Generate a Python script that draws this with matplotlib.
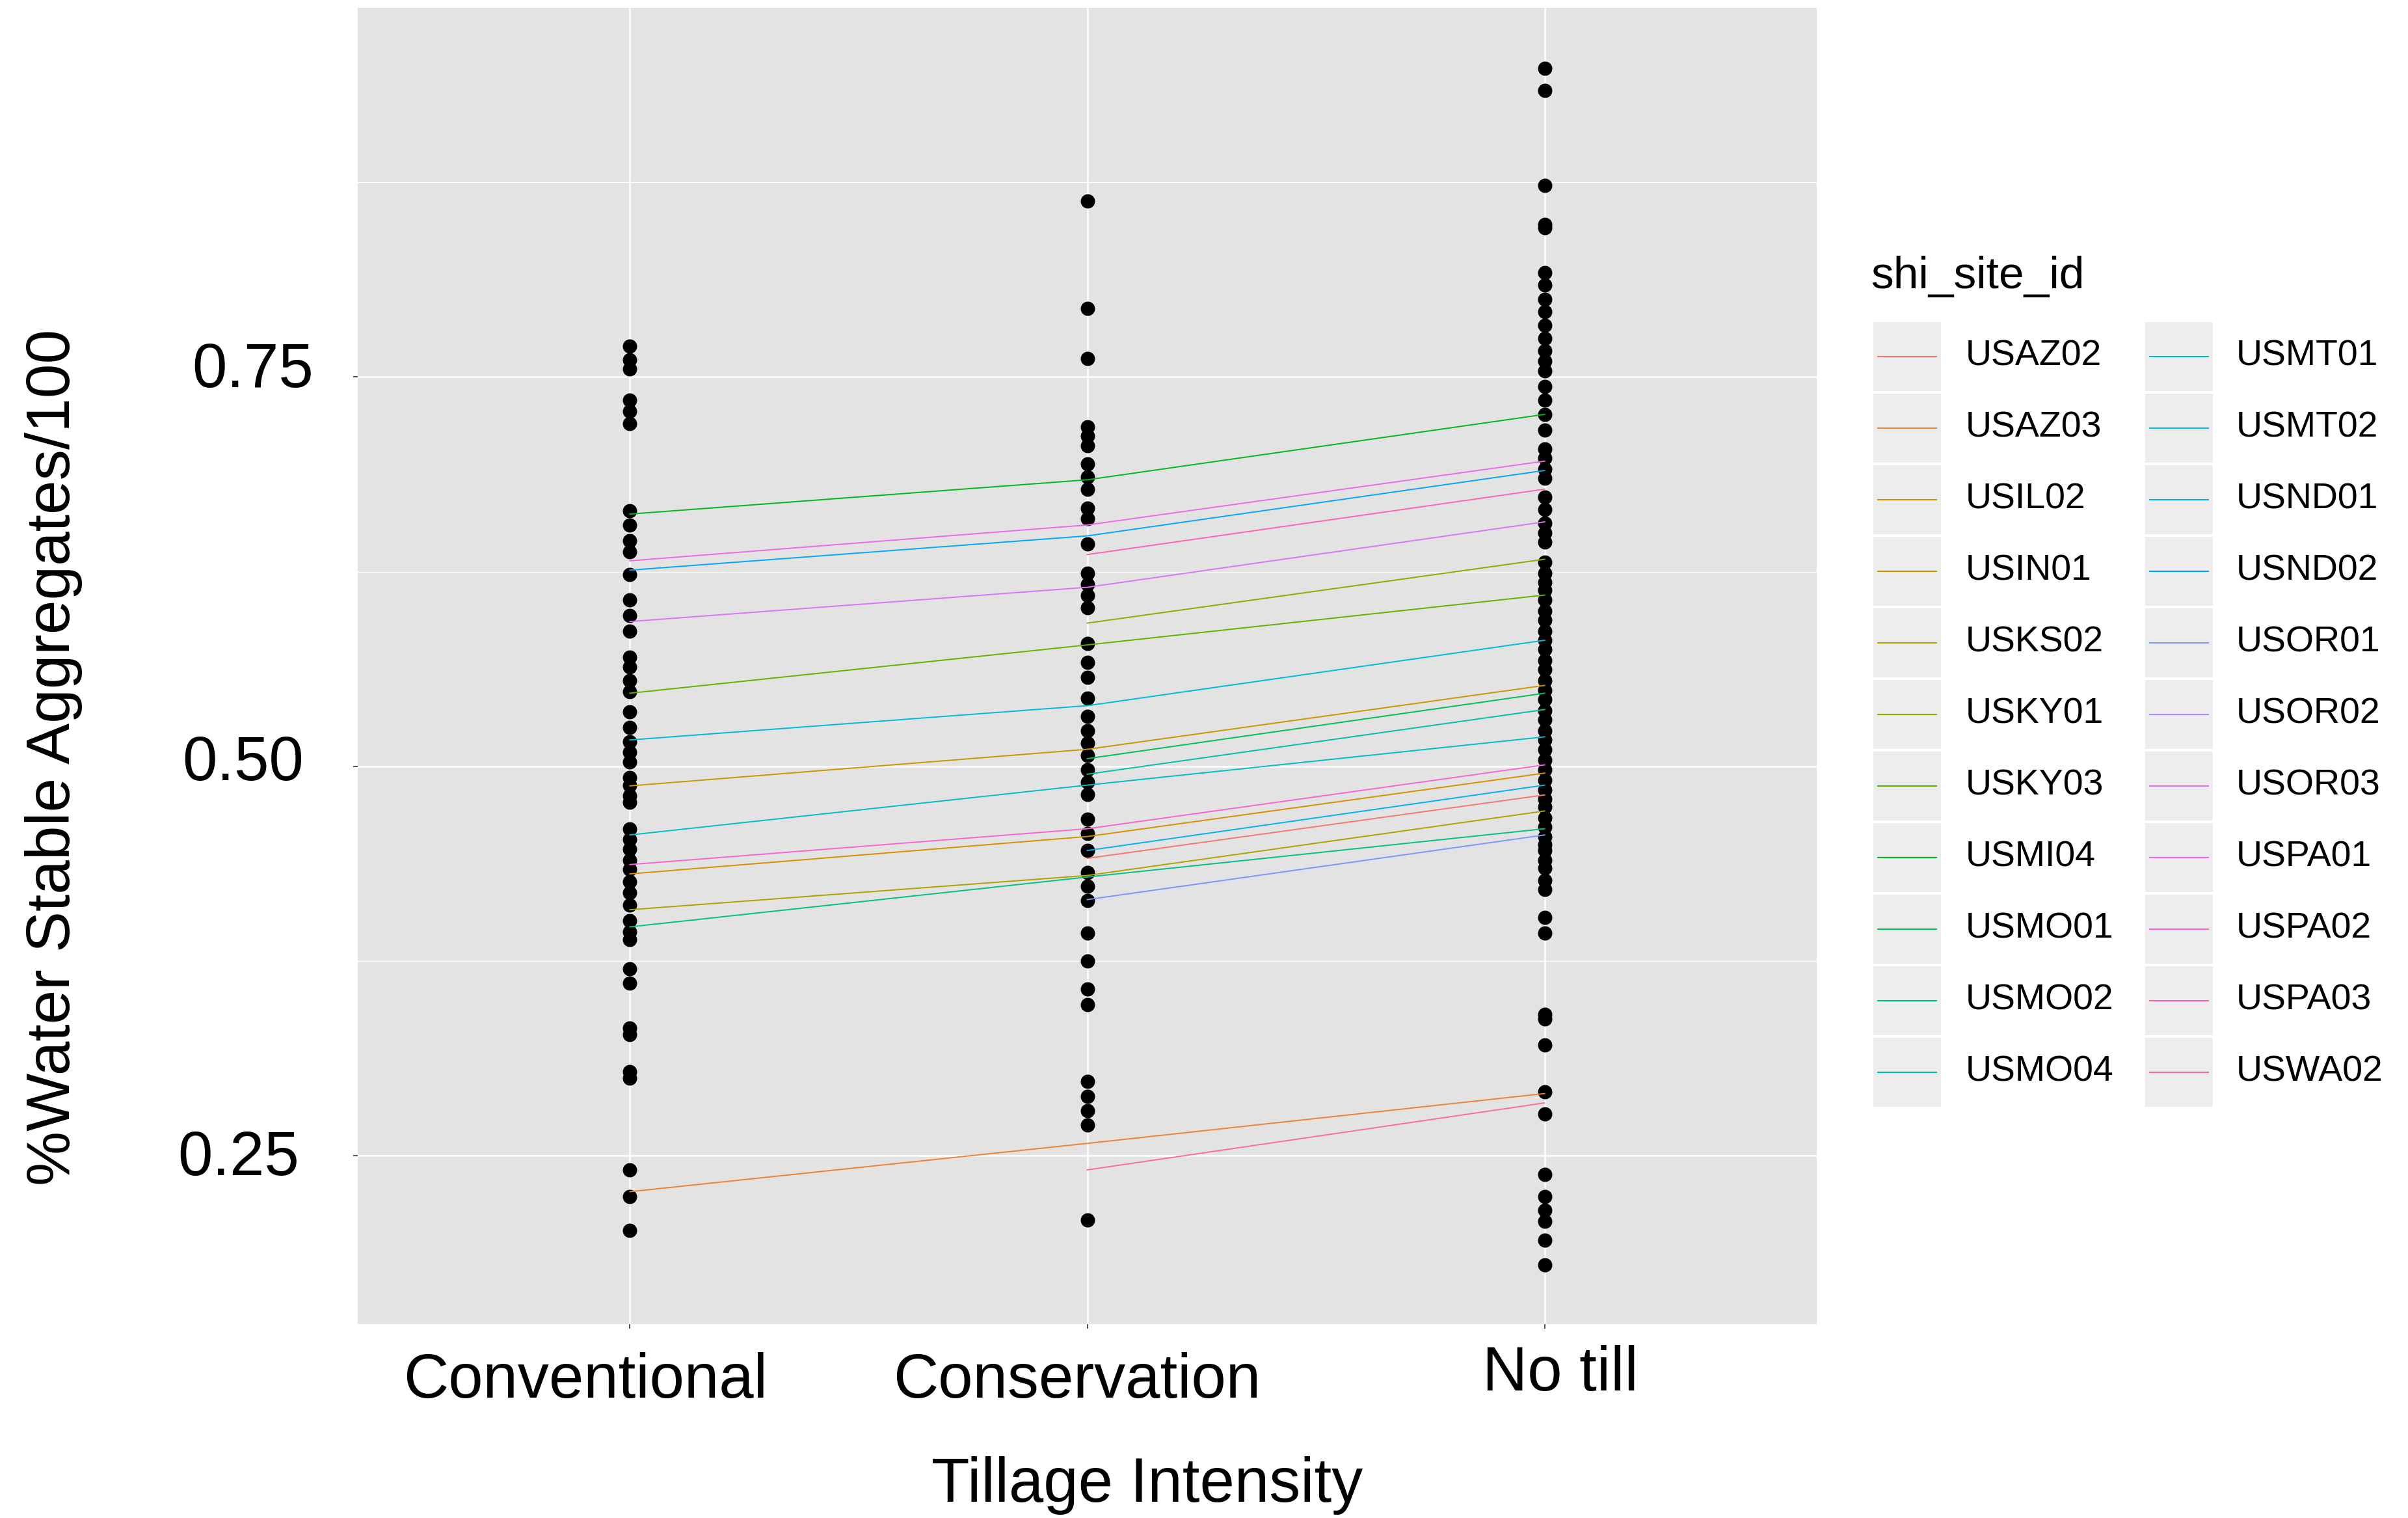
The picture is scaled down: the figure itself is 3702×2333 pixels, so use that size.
import numpy as np
import matplotlib
matplotlib.use("Agg")
import matplotlib.pyplot as plt
from matplotlib.transforms import ScaledTranslation
from matplotlib.patches import Rectangle

plt.rcParams['font.family'] = ['Liberation Sans', 'DejaVu Sans']

# tillage levels
tillage = ["Conventional", "Conservation", "No till"]

# raw observations (water stable aggregates / 100) per tillage level
conv_pts = [0.770, 0.761, 0.755, 0.735, 0.728, 0.720, 0.664, 0.655, 0.645, 0.638,
            0.623, 0.607, 0.597, 0.587, 0.570, 0.564, 0.555, 0.548, 0.535, 0.525,
            0.516, 0.509, 0.503, 0.493, 0.488, 0.481, 0.477, 0.460, 0.453, 0.447,
            0.440, 0.434, 0.426, 0.419, 0.411, 0.401, 0.394, 0.389, 0.370, 0.361,
            0.332, 0.328, 0.304, 0.300, 0.241, 0.224, 0.202]
cons_pts = [0.863, 0.794, 0.762, 0.718, 0.712, 0.706, 0.694, 0.686, 0.678, 0.666,
            0.659, 0.643, 0.624, 0.617, 0.610, 0.602, 0.579, 0.567, 0.557, 0.544,
            0.532, 0.523, 0.515, 0.507, 0.498, 0.490, 0.482, 0.466, 0.457, 0.446,
            0.432, 0.423, 0.414, 0.393, 0.375, 0.357, 0.347, 0.298, 0.288, 0.279,
            0.270, 0.209]
notill_pts = [0.948, 0.934, 0.873, 0.848, 0.846, 0.817, 0.809, 0.800, 0.792, 0.783,
              0.775, 0.767, 0.760, 0.754, 0.744, 0.735, 0.726, 0.716, 0.704, 0.698,
              0.691, 0.685, 0.673, 0.665, 0.656, 0.650, 0.644, 0.631, 0.624, 0.618,
              0.613, 0.607, 0.600, 0.594, 0.587, 0.581, 0.575, 0.568, 0.562, 0.555,
              0.549, 0.543, 0.536, 0.530, 0.523, 0.517, 0.511, 0.504, 0.498, 0.491,
              0.485, 0.479, 0.474, 0.467, 0.461, 0.455, 0.450, 0.446, 0.440, 0.435,
              0.427, 0.421, 0.403, 0.393, 0.341, 0.338, 0.321, 0.291, 0.277, 0.238,
              0.224, 0.215, 0.208, 0.196, 0.180]

# fitted values per site (nan = no data at that tillage level)
sites = ["USAZ02", "USAZ03", "USIL02", "USIN01", "USKS02", "USKY01", "USKY03",
         "USMI04", "USMO01", "USMO02", "USMO04", "USMT01", "USMT02", "USND01",
         "USND02", "USOR01", "USOR02", "USOR03", "USPA01", "USPA02", "USPA03",
         "USWA02"]
nan = np.nan
fit_conv = [nan, 0.227, 0.431, 0.4875, 0.408, nan, 0.547, 0.662, nan, 0.397, nan,
            0.456, 0.517, nan, 0.626, nan, nan, 0.593, 0.632, 0.437, nan, nan]
fit_cons = [0.441, 0.258, 0.455, 0.511, 0.430, 0.592, 0.578, 0.684, 0.505, 0.429, 0.495,
            0.488, 0.539, 0.446, 0.648, 0.4145, nan, 0.615, 0.655, 0.460, 0.636, 0.241]
fit_notill = [0.4817, 0.290, 0.4957, 0.552, 0.4714, 0.633, 0.610, 0.726, 0.547, 0.460, 0.5365,
              0.519, 0.581, 0.488, 0.690, 0.456, nan, 0.657, 0.696, 0.501, 0.678, 0.284]


def hcl_hex(h, c=100.0, l=65.0):
    # polar LUV -> sRGB, like R's hcl()
    hr = np.deg2rad(h)
    u, v = c * np.cos(hr), c * np.sin(hr)
    Xn, Yn, Zn = 95.047, 100.0, 108.883
    Y = Yn * ((l + 16) / 116) ** 3
    den = Xn + 15 * Yn + 3 * Zn
    un, vn = 4 * Xn / den, 9 * Yn / den
    up, vp = u / (13 * l) + un, v / (13 * l) + vn
    X = 9 * Y * up / (4 * vp)
    Z = Y * (12 - 3 * up - 20 * vp) / (4 * vp)
    M = np.array([[3.240479, -1.537150, -0.498535],
                  [-0.969256, 1.875992, 0.041556],
                  [0.055648, -0.204043, 1.057311]])
    lin = M @ (np.array([X, Y, Z]) / 100)
    rgb = np.where(lin > 0.0031308, 1.055 * np.abs(lin) ** (1 / 2.4) - 0.055, 12.92 * lin)
    rgb = np.clip(rgb, 0, 1)
    return '#%02X%02X%02X' % tuple(int(round(x * 255)) for x in rgb)


n = len(sites)
colors = [hcl_hex(15 + 360 * i / n) for i in range(n)]

W, H = 3702, 2333
fig = plt.figure(figsize=(W / 100, H / 100), dpi=100)
fig.patch.set_facecolor('white')

ax = fig.add_axes([550 / W, 1 - 2035 / H, (2793 - 550) / W, (2035 - 12) / H])
ax.set_facecolor('#E3E3E3')
for s in ax.spines.values():
    s.set_visible(False)

xpos = np.arange(1, len(tillage) + 1)

# points
for x, pts in zip(xpos, [conv_pts, cons_pts, notill_pts]):
    ax.scatter(np.full(len(pts), x), pts, s=250, color='black', linewidths=0, zorder=2)

# fitted lines per site
fits = np.array([fit_conv, fit_cons, fit_notill])
for i, site in enumerate(sites):
    y = fits[:, i]
    ok = ~np.isnan(y)
    if ok.sum() > 1:
        ax.plot(xpos[ok], y[ok], color=colors[i], lw=1.4, zorder=3)

ax.set_xticks(xpos)
ax.set_xticklabels(tillage)
ax.set_yticks([0.25, 0.50, 0.75])
ax.set_yticklabels(['0.25', '0.50', '0.75'])
ax.set_yticks([0.125, 0.375, 0.625, 0.875], minor=True)
# limits after the ticks, set_yticks would widen them otherwise
ax.set_xlim(0.405, 3.595)
ax.set_ylim(0.142, 0.987)
ax.grid(which='major', color='white', lw=1.8)
ax.grid(which='minor', axis='y', color='white', lw=1.0)
ax.set_axisbelow(True)
ax.tick_params(which='major', length=5, width=1.2, color='#333333', labelsize=69,
               labelcolor='black')
ax.tick_params(axis='y', pad=44)
ax.tick_params(axis='x', pad=26)
ax.tick_params(which='minor', length=0)

# nudge tick labels like in the reference
xoff = [(-68, 0), (-16, 0), (24, 11)]
for lab, (dx, dy) in zip(ax.get_xticklabels(), xoff):
    lab.set_transform(lab.get_transform() + ScaledTranslation(dx / 100, dy / 100, fig.dpi_scale_trans))
yoff = [(-22, 5), (-15, 14), (0, 19)]
for lab, (dx, dy) in zip(ax.get_yticklabels(), yoff):
    lab.set_transform(lab.get_transform() + ScaledTranslation(dx / 100, dy / 100, fig.dpi_scale_trans))

fig.text(83 / W, 1 - 1164 / H, '%Water Stable Aggregates/100', rotation=90,
         ha='center', va='center', fontsize=68)
fig.text(1764 / W, 1 - 2283 / H, 'Tillage Intensity', ha='center', va='center', fontsize=69)

# legend drawn in pixel space
lg = fig.add_axes([0, 0, 1, 1])
lg.set_xlim(0, W)
lg.set_ylim(H, 0)
lg.axis('off')
lg.patch.set_visible(False)
lg.text(2876, 425, 'shi_site_id', ha='left', va='center', fontsize=50)
rows = 11
for i, site in enumerate(sites):
    c, r = divmod(i, rows)
    kx = 2880 + c * 418
    ky = 548 + r * 110
    lg.add_patch(Rectangle((kx, ky - 53), 104, 106, facecolor='#EDEDED', edgecolor='none'))
    lg.plot([kx + 7, kx + 97], [ky, ky], color=colors[i], lw=1.5)
    lg.text(3022 + c * 416, ky, site, ha='left', va='center', fontsize=40)

fig.savefig('out.png', dpi=100)
